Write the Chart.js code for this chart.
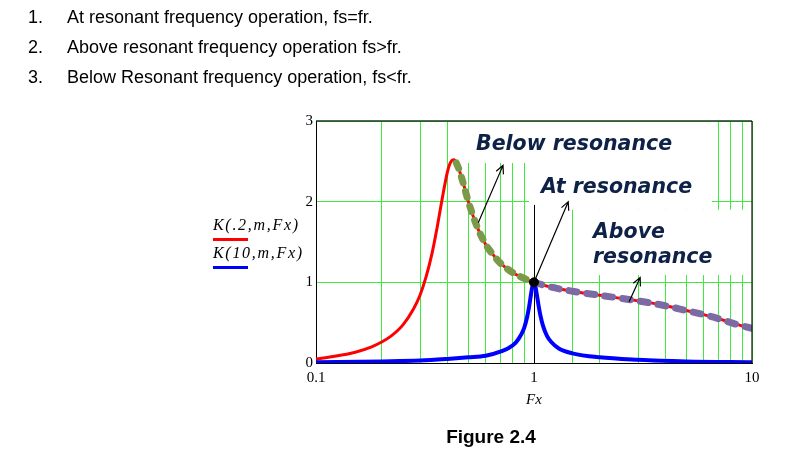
<!DOCTYPE html>
<html>
<head>
<meta charset="utf-8">
<script src="https://cdn.jsdelivr.net/npm/chart.js@4.4.1/dist/chart.umd.min.js"></script>
<style>
  html, body { margin: 0; padding: 0; background: #fff; }
  body { width: 791px; height: 454px; position: relative; overflow: hidden; }
  #gainChart { position: absolute; left: 0; top: 0; }
  .txt { position: absolute; white-space: nowrap; color: #000; font-family: "Liberation Sans", Arial, sans-serif; font-size: 18px; line-height: 18px; }
  .caption { left: 391px; width: 200px; text-align: center; top: 427px; font-weight: bold; font-size: 19px; line-height: 19px; }
  .leg { position: absolute; left: 213px; white-space: nowrap; font-family: "Liberation Serif", "Times New Roman", serif; font-style: italic; font-size: 16px; line-height: 16px; letter-spacing: 1.7px; }
  .swatch { position: absolute; left: 213px; width: 35px; height: 3px; }
</style>
</head>
<body>
<canvas id="gainChart" width="791" height="454"></canvas>

<div class="txt" style="left:28px; top:8px;">1.</div>
<div class="txt" style="left:67px; top:8px;">At resonant frequency operation, fs=fr.</div>
<div class="txt" style="left:28px; top:38px;">2.</div>
<div class="txt" style="left:67px; top:38px;">Above resonant frequency operation fs&gt;fr.</div>
<div class="txt" style="left:28px; top:68px;">3.</div>
<div class="txt" style="left:67px; top:68px;">Below Resonant frequency operation, fs&lt;fr.</div>

<div class="leg" style="top:217px;">K(.2,m,Fx)</div>
<div class="swatch" style="top:238px; background:#ff0000;"></div>
<div class="leg" style="top:245px;">K(10,m,Fx)</div>
<div class="swatch" style="top:266px; background:#0000ff;"></div>

<div class="txt caption">Figure 2.4</div>

<script>
'use strict';

// K(.2, m, Fx)
const redFx = [0.1, 0.12, 0.15, 0.18, 0.2, 0.22, 0.25, 0.28, 0.3, 0.32, 0.34, 0.36, 0.38, 0.4, 0.41, 0.42, 0.43, 0.44, 0.45, 0.47,
               0.5, 0.55, 0.6, 0.65, 0.7, 0.8, 0.9, 1, 1.2, 1.5, 2, 3, 4, 5, 6, 7, 8, 9, 10];
const redK = [0.05, 0.08, 0.13, 0.2, 0.26, 0.33, 0.47, 0.67, 0.84, 1.07, 1.35, 1.69, 2.05, 2.36, 2.46, 2.51, 2.52, 2.48, 2.42, 2.26,
              2.0, 1.68, 1.47, 1.34, 1.24, 1.12, 1.05, 1.0, 0.94, 0.89, 0.84, 0.77, 0.71, 0.65, 0.6, 0.55, 0.5, 0.46, 0.43];

// K(10, m, Fx)
const blueFx = [0.1, 0.2, 0.3, 0.4, 0.5, 0.6, 0.7, 0.8, 0.85, 0.9, 0.93, 0.95, 0.97, 0.98, 0.99, 1,
                1.01, 1.02, 1.03, 1.05, 1.07, 1.1, 1.15, 1.2, 1.3, 1.5, 2, 3, 5, 10];
const blueK = [0.01, 0.02, 0.03, 0.05, 0.07, 0.09, 0.14, 0.22, 0.3, 0.43, 0.57, 0.7, 0.86, 0.93, 0.98, 1.0,
               0.98, 0.92, 0.85, 0.71, 0.59, 0.46, 0.33, 0.26, 0.18, 0.12, 0.07, 0.04, 0.02, 0.01];

// operating regions along the Q=.2 curve
const belowStart = 0.44;
const resonanceFx = 1;
const resonanceK = 1;

const xTickLabels = [0.1, 1, 10];
const yTicks = [0, 1, 2, 3];

const gridGreen = '#3fea3f';
const noteColor = '#0e2146';
const serif = '"Liberation Serif", "Times New Roman", serif';

// text notes and their arrows, placed in axis units
const notes = [
    { lines: ['Below resonance'], x: 0.542, y: 2.64 },
    { lines: ['At resonance'], x: 1.077, y: 2.107 },
    { lines: ['Above', 'resonance'], x: 1.865, y: 1.549 }
];
const arrows = [
    { from: [0.555, 1.74], to: [0.721, 2.45] },
    { from: [1, 1], to: [1.436, 2.0] },
    { from: [2.73, 0.76], to: [3.07, 1.06] }
];
// white panels behind the notes (they hide the grid)
const panels = [
    { x0: 0.46, x1: 6.8, y0: 2.48, y1: 2.99 },
    { x0: 0.95, x1: 6.55, y0: 1.90, y1: 2.48 },
    { x0: 1.79, x1: 9.45, y0: 1.09, y1: 1.90 }
];
const markerTop = 1.96;

function points(xs, ys, keep) {
    return xs.map((x, i) => ({ x: x, y: ys[i] })).filter(p => !keep || keep(p.x));
}

const overlay = {
    id: 'overlay',
    beforeDatasetsDraw(chart) {
        const { ctx, scales: { x, y } } = chart;
        ctx.save();
        ctx.fillStyle = '#fff';
        panels.forEach(p => {
            const l = x.getPixelForValue(p.x0), r = x.getPixelForValue(p.x1);
            const t = y.getPixelForValue(p.y1), b = y.getPixelForValue(p.y0);
            ctx.fillRect(l, t, r - l, b - t);
        });
        // marker at fr
        const px = Math.round(x.getPixelForValue(resonanceFx)) + 0.5;
        ctx.strokeStyle = '#000';
        ctx.lineWidth = 1;
        ctx.beginPath();
        ctx.moveTo(px, y.getPixelForValue(markerTop));
        ctx.lineTo(px, y.getPixelForValue(0));
        ctx.stroke();
        ctx.restore();
    },
    afterDatasetsDraw(chart) {
        const { ctx, scales: { x, y } } = chart;
        ctx.save();
        ctx.strokeStyle = '#000';
        ctx.lineWidth = 1.2;
        arrows.forEach(a => {
            const x0 = x.getPixelForValue(a.from[0]), y0 = y.getPixelForValue(a.from[1]);
            const x1 = x.getPixelForValue(a.to[0]), y1 = y.getPixelForValue(a.to[1]);
            const ang = Math.atan2(y1 - y0, x1 - x0);
            ctx.beginPath();
            ctx.moveTo(x0, y0);
            ctx.lineTo(x1, y1);
            ctx.moveTo(x1 - 9 * Math.cos(ang - 0.45), y1 - 9 * Math.sin(ang - 0.45));
            ctx.lineTo(x1, y1);
            ctx.lineTo(x1 - 9 * Math.cos(ang + 0.45), y1 - 9 * Math.sin(ang + 0.45));
            ctx.stroke();
        });
        ctx.fillStyle = noteColor;
        ctx.font = 'italic bold 20.5px "DejaVu Sans", Verdana, sans-serif';
        ctx.textBaseline = 'alphabetic';
        ctx.textAlign = 'left';
        notes.forEach(n => {
            const px = x.getPixelForValue(n.x), py = y.getPixelForValue(n.y);
            n.lines.forEach((line, i) => ctx.fillText(line, px, py + i * 25));
        });
        ctx.restore();
    },
    afterDraw(chart) {
        const { ctx, chartArea: a } = chart;
        ctx.save();
        ctx.lineWidth = 1.5;
        ctx.strokeStyle = '#1d331d';
        ctx.beginPath();
        ctx.moveTo(a.left, a.top);
        ctx.lineTo(a.right, a.top);
        ctx.stroke();
        ctx.strokeStyle = '#111';
        ctx.lineWidth = 1.2;
        ctx.beginPath();
        ctx.moveTo(a.right, a.top);
        ctx.lineTo(a.right, a.bottom);
        ctx.stroke();
        ctx.restore();
    }
};

function graphInit() {
    const ctx = document.getElementById('gainChart').getContext('2d');
    return new Chart(ctx, {
        type: 'line',
        data: {
            datasets: [{
                label: 'fr',
                data: [{ x: resonanceFx, y: resonanceK }],
                showLine: false,
                pointRadius: 4.5,
                pointBackgroundColor: '#000',
                pointBorderColor: '#000',
                order: 0
            }, {
                label: 'Below resonance',
                data: points(redFx, redK, v => v >= belowStart && v <= resonanceFx),
                borderColor: '#7b9a49',
                borderWidth: 7,
                borderDash: [6, 9],
                borderCapStyle: 'round',
                cubicInterpolationMode: 'monotone',
                pointRadius: 0,
                order: 1
            }, {
                label: 'Above resonance',
                data: points(redFx, redK, v => v >= resonanceFx),
                borderColor: '#7b6aa3',
                borderWidth: 7,
                borderDash: [8, 10],
                borderCapStyle: 'round',
                cubicInterpolationMode: 'monotone',
                pointRadius: 0,
                order: 1
            }, {
                label: 'K(10,m,Fx)',
                data: points(blueFx, blueK),
                borderColor: '#0000ff',
                borderWidth: 4,
                cubicInterpolationMode: 'monotone',
                pointRadius: 0,
                order: 2
            }, {
                label: 'K(.2,m,Fx)',
                data: points(redFx, redK),
                borderColor: '#ff0000',
                borderWidth: 3,
                cubicInterpolationMode: 'monotone',
                pointRadius: 0,
                order: 3
            }]
        },
        options: {
            responsive: false,
            animation: false,
            events: [],
            layout: { padding: { left: 296, right: 39, top: 121, bottom: 45 } },
            plugins: { legend: { display: false }, tooltip: { enabled: false } },
            scales: {
                x: {
                    type: 'logarithmic',
                    min: 0.1,
                    max: 10,
                    afterFit: s => { s.height = 46; },
                    grid: { color: gridGreen, lineWidth: 1, drawTicks: false },
                    border: { color: '#000', width: 1 },
                    ticks: {
                        autoSkip: false,
                        maxRotation: 0,
                        padding: 6,
                        color: '#000',
                        font: { family: serif, size: 15 },
                        callback: v => {
                            const t = xTickLabels.find(l => Math.abs(l - v) < 1e-9);
                            return t === undefined ? '' : String(t);
                        }
                    },
                    title: {
                        display: true,
                        text: 'Fx',
                        color: '#000',
                        padding: 0,
                        font: { family: serif, size: 15, style: 'italic' }
                    }
                },
                y: {
                    min: yTicks[0],
                    max: yTicks[yTicks.length - 1],
                    afterFit: s => { s.width = 20; },
                    grid: { color: gridGreen, lineWidth: 1, drawTicks: false },
                    border: { color: '#000', width: 1 },
                    ticks: {
                        stepSize: 1,
                        padding: 3,
                        color: '#000',
                        font: { family: serif, size: 15 }
                    }
                }
            }
        },
        plugins: [overlay]
    });
}

graphInit();
</script>
</body>
</html>
